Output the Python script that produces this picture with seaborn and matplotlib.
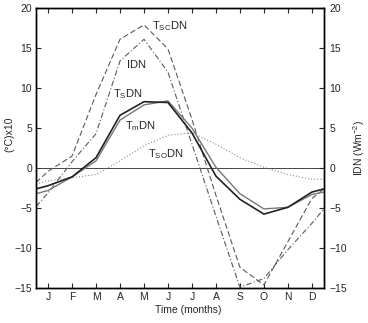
import numpy as np
import pandas as pd
import matplotlib
matplotlib.use("Agg")
import matplotlib.pyplot as plt
import seaborn as sns

# time axis in months: year boundaries plus mid-month points
t = [0.0, 0.5, 1.5, 2.5, 3.5, 4.5, 5.5, 6.5, 7.5, 8.5, 9.5, 10.5, 11.5, 12.0]
month_pos = [0.5, 1.5, 2.5, 3.5, 4.5, 5.5, 6.5, 7.5, 8.5, 9.5, 10.5, 11.5]
month_lbl = ['J', 'F', 'M', 'A', 'M', 'J', 'J', 'A', 'S', 'O', 'N', 'D']

tsc = [-1.8, -0.4, 1.5, 9.2, 16.1, 17.9, 14.9, 6.1, -3.4, -12.4, -14.6, -9.2, -3.8, -2.6]
idn = [-4.8, -3.1, 0.8, 4.3, 13.4, 16.1, 12.0, 3.0, -6.0, -14.9, -13.8, -10.2, -6.9, -5.1]
ts = [-2.6, -2.2, -1.1, 1.3, 6.6, 8.3, 8.2, 4.4, -1.0, -3.9, -5.75, -4.9, -3.0, -2.6]
tm = [-3.2, -2.8, -1.1, 0.9, 6.0, 7.9, 8.4, 5.0, 0.1, -3.2, -5.1, -4.9, -3.3, -3.0]
tso = [-2.0, -1.6, -1.2, -0.8, 0.9, 2.8, 4.1, 4.4, 3.0, 1.3, 0.1, -0.8, -1.4, -1.4]

sns.set_style("ticks")
plt.rcParams['font.family'] = ['Liberation Sans', 'DejaVu Sans']
plt.rcParams['mathtext.fontset'] = 'custom'
plt.rcParams['mathtext.rm'] = 'Liberation Sans'
plt.rcParams['mathtext.it'] = 'Liberation Sans:italic'

fig = plt.figure(figsize=(3.68, 3.23), dpi=100)
ax = fig.add_axes([0.098, 0.108, 0.782, 0.867])

ax.axhline(0, color='#444444', lw=0.7)

styles = [
    (tsc, '#5a5a5a', 0.8, (5, 2.5)),
    (idn, '#5a5a5a', 0.8, (5, 2, 1, 2)),
    (tso, '#8a8a8a', 0.8, (1, 1.8)),
    (tm, '#777777', 1.0, None),
    (ts, '#222222', 1.2, None),
]
for vals, col, lw, dash in styles:
    df = pd.DataFrame({'t': t, 'v': vals})
    sns.lineplot(data=df, x='t', y='v', ax=ax, color=col, lw=lw, sort=False)
    if dash is not None:
        ax.lines[-1].set_dashes(dash)

fs_tick = 7.5
ax.set_xlim(0, 12)
ax.set_ylim(-15, 20)
ax.set_xticks(month_pos)
ax.set_xticklabels(month_lbl)
ax.set_yticks(range(-15, 21, 5))
ax.tick_params(direction='in', top=True, length=3.5, width=0.8, labelsize=fs_tick, pad=3)
ax.set_xlabel('Time (months)', fontsize=fs_tick)
ax.xaxis.set_label_coords(0.53, -0.06)
ax.set_ylabel('(°C)x10', fontsize=fs_tick)
ax.yaxis.set_label_coords(-0.075, 0.55)

ax2 = ax.twinx()
ax2.set_ylim(-15, 20)
ax2.set_yticks(range(-15, 21, 5))
ax2.tick_params(direction='in', length=3.5, width=0.8, labelsize=fs_tick, pad=4)
ax2.set_ylabel(r'IDN (Wm$^{-2}$)', fontsize=fs_tick, labelpad=3)

for a in (ax, ax2):
    for s in a.spines.values():
        s.set_linewidth(1.0)
        s.set_color('black')

fs = 8
ax.text(4.85, 17.3, r'T$_\mathrm{SC}$DN', fontsize=fs, va='baseline')
ax.text(3.8, 12.5, 'IDN', fontsize=fs, va='baseline')
ax.text(3.2, 8.9, r'T$_\mathrm{S}$DN', fontsize=fs, va='baseline')
ax.text(3.72, 4.8, r'T$_\mathrm{m}$DN', fontsize=fs, va='baseline')
ax.text(4.65, 1.4, r'T$_\mathrm{SO}$DN', fontsize=fs, va='baseline')

fig.savefig('out.png', dpi=100)
